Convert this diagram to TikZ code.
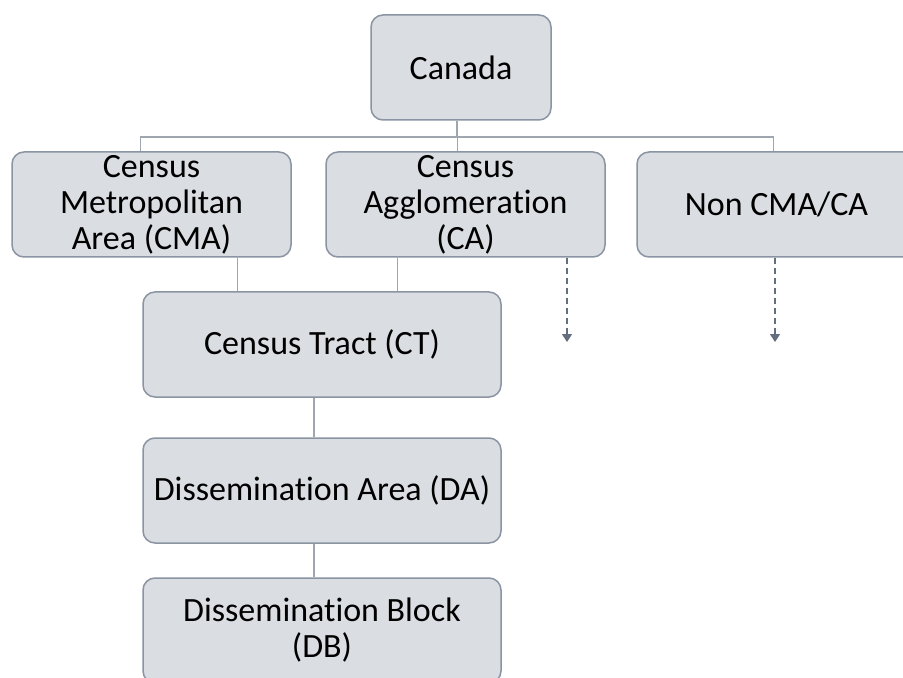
\documentclass[tikz,border=0pt]{standalone}
\usepackage{fontspec}
\setmainfont[Ligatures={NoCommon}]{Carlito}
\usepackage{tikz}
\usetikzlibrary{arrows.meta}
\definecolor{hopnen}{RGB}{218,221,225}
\definecolor{vienhop}{RGB}{138,148,162}
\definecolor{duongnoi}{RGB}{160,166,175}
\definecolor{muiten}{RGB}{100,110,126}
\begin{document}
\begin{tikzpicture}[x=0.5pt,y=-0.5pt,
		hop/.style={draw=vienhop,fill=hopnen,line width=0.75pt,rounded corners=6pt,align=center,
			font=\fontsize{17}{18}\selectfont,inner sep=0pt,minimum height=52.5pt},
		noi/.style={draw=duongnoi,line width=0.75pt},
		netdut/.style={draw=muiten,line width=0.75pt,dash pattern=on 3pt off 2pt,
			-{Triangle[width=5pt,length=4pt,fill=muiten]}}]
			\clip (0,0) rectangle (903,678);
			\fill[white] (0,0) rectangle (903,678);
			
			\node[hop,minimum width=90pt] (canada) at (461,67.5) {Canada};
			\node[hop,minimum width=139.5pt] (cma) at (151.5,204.5) {Census\\Metropolitan\\Area (CMA)};
			\node[hop,minimum width=139.5pt] (ca) at (465.5,204.5) {Census\\Agglomeration\\(CA)};
			\node[hop,minimum width=139.5pt] (nonca) at (776.5,204.5) {Non CMA/CA};
			\node[hop,minimum width=179pt] (ct) at (322,344.5) {Census Tract (CT)};
			\node[hop,minimum width=179pt] (da) at (322,490.5) {Dissemination Area (DA)};
			\node[hop,minimum width=179pt] (db) at (322,630.5) {Dissemination Block\\(DB)};
			
			\coordinate (bus) at (0,137);
			\coordinate (caend) at (567,342);
			\coordinate (nonend) at (775,342);
			
			\draw[noi] ([xshift=-2pt]canada.south) -- ([xshift=-2pt]canada.south |- bus);
			\draw[noi] ([xshift=-5.5pt]cma.north) |- ([xshift=-1.5pt]nonca.north |- bus) -- ([xshift=-1.5pt]nonca.north);
			\draw[noi] ([xshift=-4pt]ca.north) -- ([xshift=-4pt]ca.north |- bus);
			\draw[noi] ([xshift=47.5pt]ct.north west) -- ([xshift=47.5pt]ct.north west |- cma.south);
			\draw[noi] ([xshift=127.5pt]ct.north west) -- ([xshift=127.5pt]ct.north west |- ca.south);
			\draw[noi] ([xshift=-4pt]ct.south) -- ([xshift=-4pt]da.north);
			\draw[noi] ([xshift=-4pt]da.south) -- ([xshift=-4pt]db.north);
			
			\draw[netdut] (caend |- ca.south) -- (caend);
			\draw[netdut] (nonend |- nonca.south) -- (nonend);
		\end{tikzpicture}
\end{document}
